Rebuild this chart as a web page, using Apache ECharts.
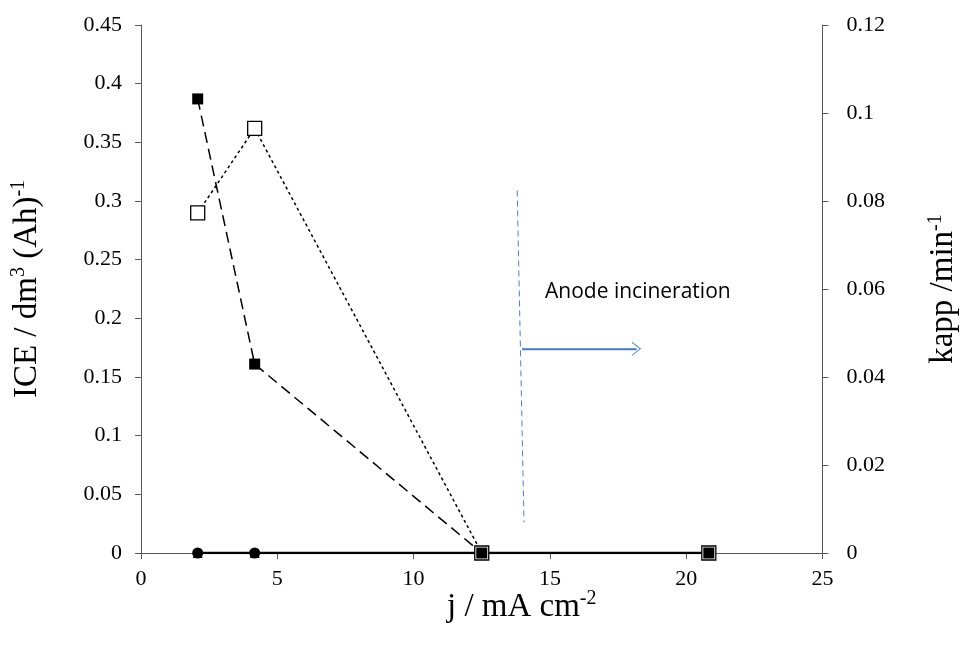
<!DOCTYPE html>
<html>
<head>
<meta charset="utf-8">
<script src="https://cdn.jsdelivr.net/npm/echarts@6/dist/echarts.min.js"></script>
<style>
html, body { margin: 0; padding: 0; background: #fff; }
#chart { width: 968px; height: 648px; }
</style>
</head>
<body>
<div id="chart"></div>
<script>
// current density j (mA cm-2)
var jValues = [2.08, 4.17, 12.5, 20.83];
// ICE, filled squares (left axis)
var iceFilled = [0.387, 0.161, 0, 0];
// kapp, open squares (right axis)
var kappOpen = [0.0773, 0.0965, 0, 0];
// circles and triangles, both at zero
var circleVals = [0, 0, 0, 0];
var triangleVals = [0, 0, 0, 0];

// annotation (data coords on x / left y)
var dividerLine = [[13.8, 0.309], [14.05, 0.026]];
var arrowLine = [[13.98, 0.174], [18.18, 0.174]];

var xTicks = { min: 0, max: 25, interval: 5 };
var leftTicks = { min: 0, max: 0.45, interval: 0.05 };
var rightTicks = { min: 0, max: 0.12, interval: 0.02 };

function pairs(xs, ys) {
  return xs.map(function (x, i) { return [x, ys[i]]; });
}

var chart = echarts.init(document.getElementById('chart'));
var axisCol = '#595959';
var tickFont = { color: '#000', fontFamily: 'Liberation Serif', fontSize: 22 };
var titleRich = {
  n: { fontFamily: 'Liberation Serif', fontSize: 33, color: '#000', lineHeight: 36 },
  s: { fontFamily: 'Liberation Serif', fontSize: 20, color: '#000', verticalAlign: 'top', lineHeight: 24 }
};

chart.setOption({
  animation: false,
  grid: { left: 141, right: 142, top: 25, bottom: 95 },
  xAxis: {
    type: 'value',
    min: xTicks.min, max: xTicks.max, interval: xTicks.interval,
    name: '{n|j / mA cm}{s|-2}',
    nameLocation: 'middle',
    nameGap: 36,
    nameMoveOverlap: false,
    nameTextStyle: { rich: titleRich, padding: [0, 0, 0, 80] },
    axisLine: { onZero: false, lineStyle: { color: axisCol } },
    axisTick: { inside: false, length: 6, lineStyle: { color: axisCol } },
    axisLabel: Object.assign({ margin: 15 }, tickFont),
    splitLine: { show: false }
  },
  yAxis: [{
    type: 'value',
    min: leftTicks.min, max: leftTicks.max, interval: leftTicks.interval,
    name: '{n|ICE / dm}{s|3}{n| (Ah)}{s|-1}',
    nameLocation: 'middle',
    nameGap: 96,
    nameRotate: 90,
    nameTextStyle: { rich: titleRich },
    axisLine: { show: true, lineStyle: { color: axisCol } },
    axisTick: { show: true, length: 6, lineStyle: { color: axisCol } },
    axisLabel: Object.assign({ margin: 19 }, tickFont),
    splitLine: { show: false }
  }, {
    type: 'value',
    position: 'right',
    min: rightTicks.min, max: rightTicks.max, interval: rightTicks.interval,
    name: '{n|kapp /min}{s|-1}',
    nameLocation: 'middle',
    nameGap: 103,
    nameRotate: 90,
    nameTextStyle: { rich: titleRich },
    axisLine: { show: true, lineStyle: { color: axisCol } },
    axisTick: { show: true, length: 6, lineStyle: { color: axisCol } },
    axisLabel: Object.assign({ margin: 24 }, tickFont),
    splitLine: { show: false }
  }],
  graphic: [{
    type: 'text',
    left: 545, top: 282,
    style: { text: 'Anode incineration', fill: '#000', font: '21px "Open Sans"' }
  }],
  series: [
    {
      name: 'dividerLine', type: 'line', yAxisIndex: 0,
      data: dividerLine, symbol: 'none', silent: true,
      lineStyle: { color: '#4f81bd', width: 1, type: [6, 4] }
    },
    {
      name: 'arrowLine', type: 'line', yAxisIndex: 0,
      data: arrowLine, symbol: 'none', silent: true,
      lineStyle: { color: '#4a7ebb', width: 1.3 },
      markLine: {
        silent: true, symbol: ['none', 'path://M0,12 L6,0 L12,12 L11,12 L6,2 L1,12 Z'],
        symbolSize: [14, 9],
        label: { show: false },
        lineStyle: { color: '#4a7ebb', width: 1.3, type: 'solid' },
        data: [[{ coord: arrowLine[0] }, { coord: arrowLine[1] }]]
      }
    },
    {
      name: 'triangles', type: 'line', yAxisIndex: 0,
      data: pairs(jValues, triangleVals),
      symbol: 'triangle', symbolSize: 10,
      itemStyle: { color: '#000' },
      lineStyle: { color: '#000', width: 1.5 }
    },
    {
      name: 'circles', type: 'line', yAxisIndex: 0,
      data: pairs(jValues, circleVals),
      symbol: 'circle', symbolSize: 11,
      itemStyle: { color: '#000' },
      lineStyle: { color: '#000', width: 2.5 }
    },
    {
      name: 'kapp', type: 'line', yAxisIndex: 1,
      data: pairs(jValues, kappOpen),
      symbol: 'rect', symbolSize: 14,
      itemStyle: { color: '#fff', borderColor: '#000', borderWidth: 1.3 },
      lineStyle: { color: '#000', width: 1.5, type: [3, 3] }
    },
    {
      name: 'ICE', type: 'line', yAxisIndex: 0,
      data: pairs(jValues, iceFilled),
      symbol: 'rect', symbolSize: 11,
      itemStyle: { color: '#000' },
      lineStyle: { color: '#000', width: 1.5, type: [11, 6] }
    }
  ]
});
</script>
</body>
</html>
